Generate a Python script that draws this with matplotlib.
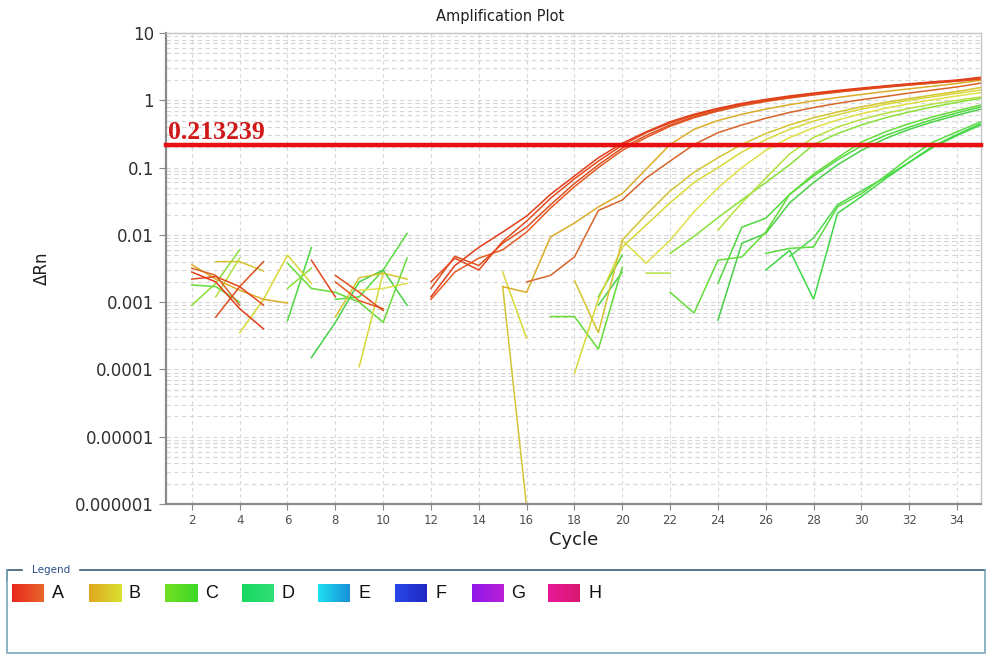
import numpy as np
import matplotlib
matplotlib.use("Agg")
import matplotlib.pyplot as plt
from matplotlib.colors import LinearSegmentedColormap

n = np.nan
cycles = np.arange(1, 36)

# delta Rn per cycle (cycles 1..35), nan where nothing is drawn
A1 = [n, .0028, .0020, .0008, .0004,
      n, n, n, n, n,
      n, .0012, .0035, .0065, .011,
      .019, .040, .075, .14, .23,
      .34, .48, .62, .76, .90,
      1.03, 1.16, 1.28, 1.40, 1.52,
      1.64, 1.76, 1.88, 2.00, 2.20]
A2 = [n, .0022, .0024, .0017, .0009,
      n, .0042, .0012, n, n,
      n, .0020, .0045, .0030, .0080,
      .016, .035, .068, .125, .215,
      .33, .46, .60, .74, .88,
      1.00, 1.13, 1.25, 1.37, 1.49,
      1.61, 1.73, 1.85, 1.97, 2.15]
A3 = [n, n, .0006, .0017, .0040,
      n, n, .0025, .0014, .00075,
      n, .0016, .0048, .0035, .0075,
      .013, .028, .058, .11, .195,
      .30, .43, .57, .71, .85,
      .98, 1.10, 1.22, 1.34, 1.46,
      1.58, 1.70, 1.82, 1.94, 2.10]
A4 = [n, n, n, n, n,
      n, n, .0020, .00105, .0008,
      n, .0011, .0028, .0045, .0060,
      .011, .025, .052, .10, .18,
      .28, .41, .55, .69, .83,
      .96, 1.08, 1.20, 1.32, 1.44,
      1.56, 1.68, 1.80, 1.92, 2.05]
A5 = [n, .0032, .0025, .0009, n,
      n, n, n, n, n,
      n, n, n, n, n,
      .0020, .0025, .0047, .023, .033,
      .070, .125, .22, .33, .43,
      .54, .66, .78, .90, 1.02,
      1.14, 1.28, 1.42, 1.58, 1.80]
B1 = [n, .0036, .0022, .0015, .0011,
      .00097, n, n, n, n,
      n, n, n, n, .0017,
      .0014, .0093, .015, .026, .041,
      .095, .22, .37, .50, .62,
      .74, .86, .98, 1.10, 1.22,
      1.35, 1.48, 1.62, 1.78, 1.98]
B2 = [n, n, .0040, .0040, .0029,
      n, n, .0006, .0023, .0027,
      .0022, n, n, n, .0017,
      9e-7, n, .0021, .00035, .0084,
      .020, .045, .085, .14, .22,
      .32, .43, .55, .67, .80,
      .93, 1.06, 1.20, 1.35, 1.55]
B3 = [n, n, n, .00035, .0011,
      .0050, .0019, n, .00011, .0027,
      n, n, n, n, .0028,
      .00029, n, 8.7e-5, .0011, .0066,
      .014, .030, .060, .10, .17,
      .26, .37, .49, .61, .74,
      .87, 1.00, 1.13, 1.27, 1.42]
B4 = [n, n, n, n, n,
      n, n, n, .0015, .0016,
      .0019, n, n, n, n,
      n, n, n, n, .0083,
      .0038, .0083, .022, .050, .10,
      .18, .28, .39, .51, .63,
      .76, .89, 1.02, 1.16, 1.30]
C1 = [n, n, .0012, .0045, n,
      n, n, n, n, n,
      n, n, n, n, n,
      n, n, n, n, n,
      .0027, .0027, n, .0117, .030,
      .070, .16, .28, .40, .52,
      .64, .76, .88, 1.00, 1.12]
C2 = [n, .0009, .0019, .0060, n,
      .0016, .0032, n, n, n,
      n, n, n, n, n,
      n, n, n, n, n,
      n, .0053, .0095, .018, .033,
      .060, .11, .22, .32, .43,
      .55, .67, .80, .93, 1.07]
D1 = [n, .0018, .0017, .0010, n,
      .0038, .0016, .0014, .0010, .0005,
      .0045, n, n, n, n,
      n, .00061, .00061, .0002, .0033,
      n, .0014, .00069, .0042, .0047,
      .011, .040, .080, .14, .24,
      .34, .45, .57, .70, .85]
D2 = [n, n, n, n, n,
      .00053, .0065, n, n, n,
      n, n, n, n, n,
      n, n, n, .0012, .0050,
      n, n, n, .0019, .013,
      .0177, .040, .075, .13, .21,
      .30, .40, .52, .65, .80]
D3 = [n, n, n, n, n,
      n, .00015, .0005, .0020, .0030,
      .0009, n, n, n, n,
      n, n, n, .0009, .0028,
      n, n, n, .00054, .0075,
      .0105, .030, .060, .11, .18,
      .27, .37, .48, .60, .74]
D4 = [n, n, n, n, n,
      n, n, .0011, .0012, .0030,
      .0105, n, n, n, n,
      n, n, n, n, n,
      n, n, n, n, n,
      .0053, .0063, .0066, .026, .041,
      .075, .14, .24, .34, .48]
D5 = [n, n, n, n, n,
      n, n, n, n, n,
      n, n, n, n, n,
      n, n, n, n, n,
      n, n, n, n, n,
      .0030, .0059, .0011, .021, .037,
      .068, .12, .21, .31, .45]
D6 = [n, n, n, n, n,
      n, n, n, n, n,
      n, n, n, n, n,
      n, n, n, n, n,
      n, n, n, n, n,
      n, .0048, .0090, .028, .045,
      .072, .12, .20, .30, .43]

wells = [D6, D5, D4, D3, D2, D1, C2, C1, B4, B3, B2, B1, A5, A4, A3, A2, A1]
well_colors = ['#4cd84c', '#40d848', '#58dc40', '#48d048', '#50d840', '#64dc38',
               '#88e038', '#b4e040', '#e0e048', '#d8d838', '#d4c432', '#dcac28',
               '#d8642a', '#e65a22', '#dc5020', '#e4481c', '#e23c1a']

threshold = 0.213239
y_ticks = [1e-6, 1e-5, 1e-4, 1e-3, 1e-2, 1e-1, 1, 10]
y_tick_labels = ['0.000001', '0.00001', '0.0001', '0.001', '0.01', '0.1', '1', '10']
x_ticks = list(range(2, 35, 2))

legend_names = ['A', 'B', 'C', 'D', 'E', 'F', 'G', 'H']
legend_colors = [('#e8281c', '#e8662c'), ('#e0a820', '#d8e030'), ('#70e020', '#40d828'),
                 ('#18d860', '#30e078'), ('#20e0f0', '#1890d8'), ('#2848e8', '#2028c0'),
                 ('#9018e8', '#b820d8'), ('#e81898', '#d81870')]

W, H = 997, 655
fig = plt.figure(figsize=(W / 100, H / 100), dpi=100)
ax = fig.add_axes([166 / W, 1 - 504 / H, (981 - 166) / W, (504 - 33) / H])

for vals, col in zip(wells, well_colors):
    ax.plot(cycles, vals, color=col, lw=1.1, solid_joinstyle='miter')

ax.axhline(threshold, color='#e81010', lw=3.2, zorder=5, clip_on=False)
ax.text(1.0, threshold * 1.05, '0.213239', color='#d01818', fontsize=18.5,
        fontweight='bold', family='Liberation Serif', ha='left', va='bottom', zorder=6)

ax.set_yscale('log')
ax.set_ylim(1e-6, 10)
ax.set_xlim(0.92, 35)
ax.set_yticks(y_ticks)
ax.set_yticklabels(y_tick_labels)
ax.set_xticks(x_ticks)
ax.tick_params(axis='y', which='major', labelsize=12, labelcolor='#303030',
               length=5, color='#888888', direction='out')
ax.tick_params(axis='y', which='minor', length=0)
ax.tick_params(axis='x', labelsize=8.5, labelcolor='#505050', length=4,
               color='#888888', direction='out')
ax.grid(True, axis='y', which='both', ls=(0, (4, 3)), color='#d6d6d6', lw=0.8)
ax.grid(True, axis='x', which='major', ls=(0, (3, 3)), color='#d6d6d6', lw=0.8)
ax.set_axisbelow(True)
for s in ['left', 'bottom']:
    ax.spines[s].set_color('#8a8a8a')
    ax.spines[s].set_linewidth(1.6)
for s in ['top', 'right']:
    ax.spines[s].set_color('#c4c4c4')
    ax.spines[s].set_linewidth(1.0)

fig.text(500 / W, 1 - 16 / H, 'Amplification Plot', ha='center', va='center',
         fontsize=10.5, color='#202020')
fig.text(42 / W, 1 - 268 / H, 'ΔRn', rotation=90, ha='center', va='center',
         fontsize=12, color='#202020')
fig.text(574 / W, 1 - 540 / H, 'Cycle', ha='center', va='center',
         fontsize=13, color='#202020')

# legend panel drawn in pixel coordinates
lg = fig.add_axes([0, 0, 1, 1], zorder=10)
lg.axis('off')
lg.patch.set_alpha(0)
frame_top = 570
lg.plot([7, 7, 22], [580, frame_top, frame_top], color='#3c5a70', lw=1.2)
lg.plot([80, 985], [frame_top, frame_top], color='#3c5a70', lw=1.2)
lg.plot([7, 7, 985, 985], [frame_top, 653, 653, frame_top], color='#7aa6bc', lw=1.2)
lg.text(51, frame_top, 'Legend', fontsize=7.5, color='#2a4f8a', ha='center', va='center')

for i, (name, (c1, c2)) in enumerate(zip(legend_names, legend_colors)):
    x0 = 12 + i * 76.6
    cmap = LinearSegmentedColormap.from_list('sw' + name, [c1, c2])
    lg.imshow(np.linspace(0, 1, 32).reshape(1, -1), cmap=cmap, aspect='auto',
              extent=(x0, x0 + 32, 602, 584), interpolation='bilinear')
    lg.text(x0 + 40, 594, name, fontsize=13, family='Liberation Sans',
            color='#101010', ha='left', va='center')
lg.set_xlim(0, W)
lg.set_ylim(H, 0)

fig.savefig('out.png', dpi=100)
